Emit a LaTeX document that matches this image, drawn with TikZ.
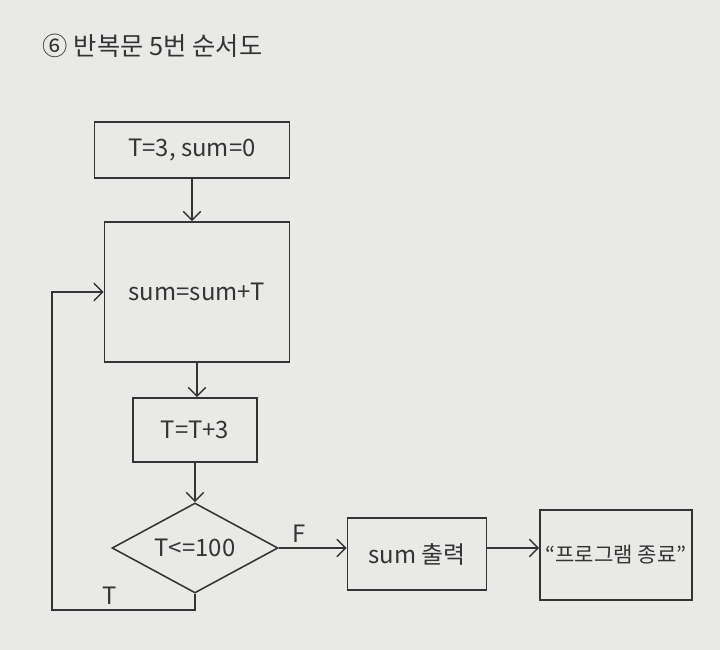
\documentclass[tikz,border=0pt]{standalone}
\usepackage{fontspec}
\setmainfont{Noto Sans CJK KR}
\usepackage{tikz}
\usetikzlibrary{shapes.geometric, arrows, arrows.meta, positioning, calc}
\definecolor{paper}{RGB}{233,233,231}
\definecolor{ink}{RGB}{52,52,52}
\tikzstyle{process} = [rectangle, text centered, draw=ink, line width=1.1pt, text=ink, font=\fontsize{17}{20}\selectfont]
\tikzstyle{decision} = [diamond, draw=ink, line width=1.1pt, text=ink, inner sep=0pt, aspect=1.85, minimum width=4.15cm, minimum height=2.25cm, font=\fontsize{17}{20}\selectfont]
\tikzstyle{arrow} = [line width=1.1pt, draw=ink, -{Straight Barb[length=2.2mm,width=4.4mm]}]
\tikzstyle{lbl} = [text=ink, font=\fontsize{17}{20}\selectfont]

\begin{document}
\begin{tikzpicture}

% Paper
\fill[paper] (0,0) rectangle (18,-16.25);
\useasboundingbox (0,0) rectangle (18,-16.25);

% Title
\node (title) [lbl, anchor=west, font=\fontsize{18}{20}\selectfont] at (0.95,-1.15) {⑥ 반복문 5번 순서도};

% Loop body
\node (init) [process, minimum width=4.875cm, minimum height=1.4cm] at (4.8,-3.75) {T=3, sum=0};
\node (add) [process, minimum width=4.625cm, minimum height=3.5cm] at (4.925,-7.3) {sum=sum+T};
\node (inc) [process, minimum width=3.1cm, minimum height=1.6cm] at (4.875,-10.75) {T=T+3};

% Condition
\node (cond) [decision] at (4.875,-13.7) {T<=100};

% Output
\node (print) [process, minimum width=3.475cm, minimum height=1.8cm] at (10.425,-13.85) {sum 출력};
\node (stop) [process, inner sep=0pt, minimum width=3.8cm, minimum height=2.25cm, font=\fontsize{15}{18}\selectfont] at (15.4,-13.875) {“프로그램 종료”};

% Arrows
\draw [arrow] (init) -- (init |- add.north);
\draw [arrow] (add) -- (add |- inc.north);
\draw [arrow] (inc) -- (cond);
\draw [arrow] (cond.east) -- node[lbl, above, pos=0.3]{F} (cond.east -| print.west);
\draw [arrow] (print.east |- cond.east) -- (stop.west |- cond.east);

% Loop back
\coordinate (down) at ($(cond.south)+(0,-0.4)$);
\coordinate (left) at (1.3,0 |- down);
\draw [arrow] (cond.south) -- (down) -- node[lbl, above, pos=0.6]{T} (left) |- (add.west);

\end{tikzpicture}
\end{document}
